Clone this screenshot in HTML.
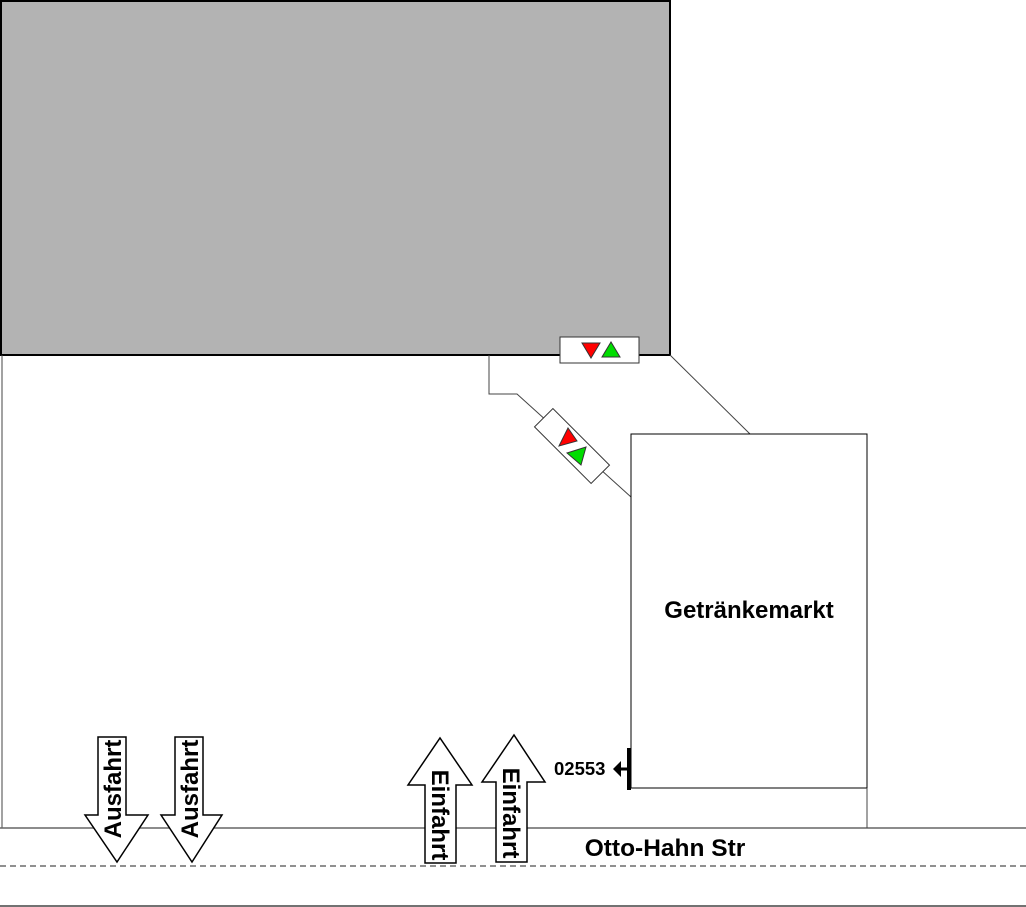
<!DOCTYPE html>
<html><head><meta charset="utf-8"><style>html,body{margin:0;padding:0;background:#fff}svg{display:block}</style></head><body>
<svg width="1026" height="907" viewBox="0 0 1026 907" xmlns="http://www.w3.org/2000/svg" font-family="Liberation Sans, Arial, sans-serif" font-weight="bold">
<rect x="1" y="1" width="669" height="354" fill="#b3b3b3" stroke="#000" stroke-width="2"/>
<line x1="2" y1="355" x2="2" y2="828" stroke="#444" stroke-width="1"/>
<line x1="0" y1="828" x2="1026" y2="828" stroke="#666" stroke-width="1.5"/>
<line x1="0" y1="866" x2="1026" y2="866" stroke="#222" stroke-width="1" stroke-dasharray="6,4"/>
<line x1="0" y1="906" x2="1026" y2="906" stroke="#444" stroke-width="1.5"/>
<line x1="670" y1="355" x2="750" y2="434" stroke="#444"/>
<polyline points="489,355 489,394 517,394 631,497" fill="none" stroke="#444"/>
<rect x="560" y="337" width="79" height="26" fill="#fff" stroke="#333"/>
<polygon points="582,343 600,343 591,358" fill="#f00" stroke="#333"/>
<polygon points="602,357 620,357 611,342" fill="#0d0" stroke="#333"/>
<g transform="translate(572,446) rotate(45)">
<rect x="-40" y="-13" width="80" height="26" fill="#fff" stroke="#333"/>
</g>
<polygon points="559,446 568,428 577,441" fill="#f00" stroke="#333"/>
<polygon points="567,453 586,447 581,465" fill="#0d0" stroke="#333"/>
<rect x="631" y="434" width="236" height="354" fill="#fff" stroke="#000"/>
<line x1="867" y1="788" x2="867" y2="828" stroke="#444"/>
<text x="749" y="618" font-size="24" text-anchor="middle">Getränkemarkt</text>
<rect x="627" y="748" width="4" height="42" fill="#000"/>
<line x1="618" y1="769" x2="628" y2="769" stroke="#000" stroke-width="3"/>
<polygon points="613,769 621,761 621,777" fill="#000"/>
<text x="554" y="775" font-size="18.5">02553</text>
<text x="665" y="856" font-size="24.5" text-anchor="middle">Otto-Hahn Str</text>
<g fill="#fff" stroke="#000" stroke-width="1.5">
<polygon points="98,737 126,737 126,815 148,815 117,862 85,815 98,815"/>
<polygon points="175,737 203,737 203,815 222,815 192,862 161,815 175,815"/>
<polygon points="425,863 456,863 456,785 472,785 440,738 408,785 425,785"/>
<polygon points="496,862 527,862 527,782 545,782 514,735 482,782 496,782"/>
</g>
<g font-size="24">
<text transform="translate(121,789) rotate(-90)" text-anchor="middle">Ausfahrt</text>
<text transform="translate(198,789) rotate(-90)" text-anchor="middle">Ausfahrt</text>
<text transform="translate(432,815) rotate(90)" text-anchor="middle">Einfahrt</text>
<text transform="translate(503,813) rotate(90)" text-anchor="middle">Einfahrt</text>
</g>
</svg>
</body></html>
